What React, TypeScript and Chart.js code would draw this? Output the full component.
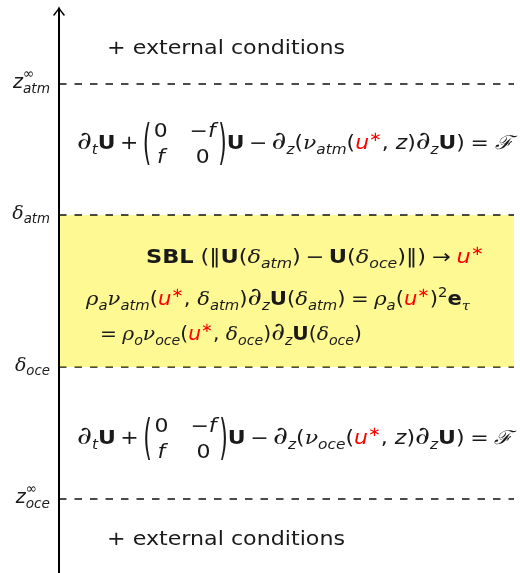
import React, { useEffect, useRef } from "react";
import { Chart, registerables } from "chart.js";

Chart.register(...registerables);

// ---------- data ----------
const levelNames = ["zAtmInf", "deltaAtm", "deltaOce", "zOceInf"];
const levelHeights = [489, 358, 206, 74];
const axisRange = [0, 565];
const layerSpan = [59, 514];
const externalText = "+ external conditions";

type Run = {
  t?: string;
  f?: "r" | "i" | "b" | "g" | "c" | "d";
  s?: "sub" | "sup";
  c?: string;
  sp?: number;
  mat?: Run[][][];
  stack?: [Run[], Run[]];
};

const RED = "#ff0000";
const INK = "#1a1a1a";
const R = (t: string, c?: string): Run => ({ t, f: "r", c });
const I = (t: string, c?: string): Run => ({ t, f: "i", c });
const B = (t: string): Run => ({ t, f: "b" });
const G = (t: string): Run => ({ t, f: "g" });
const C = (t: string): Run => ({ t, f: "c" });
const D = (): Run => ({ t: "∂", f: "d" });
const sub = (r: Run): Run => ({ ...r, s: "sub" });
const sup = (r: Run): Run => ({ ...r, s: "sup" });
const OP = (t: string): Run[] => [{ sp: 0.2 }, R(t), { sp: 0.2 }];
const REL = (t: string): Run[] => [{ sp: 0.26 }, R(t), { sp: 0.26 }];
const USTAR: Run[] = [I("u", RED), sup(R("∗", RED))];
const MAT: Run = { mat: [[[R("0")], [R("−"), I("f")]], [[I("f")], [R("0")]]] };

const levelLabels: Run[][] = [
  [I("z"), { stack: [[R("∞")], [I("atm")]] }],
  [G("δ"), sub(I("atm"))],
  [G("δ"), sub(I("oce"))],
  [I("z"), { stack: [[R("∞")], [I("oce")]] }],
];

const eqLayer = (layer: string): Run[] => [
  D(), sub(I("t")), B("U"), ...OP("+"), MAT, B("U"), ...OP("−"),
  D(), sub(I("z")), R("("), G("ν"), sub(I(layer)), R("("), ...USTAR, R(", "), I("z"), R(")"),
  D(), sub(I("z")), B("U"), R(")"), ...REL("="), C("ℱ"),
];

const sblLine1: Run[] = [
  B("SBL"), { sp: 0.3 }, R("("), R("‖"), B("U"), R("("), G("δ"), sub(I("atm")), R(")"), ...OP("−"),
  B("U"), R("("), G("δ"), sub(I("oce")), R(")"), R("‖"), R(")"), ...REL("→"), ...USTAR,
];
const sblLine2: Run[] = [
  G("ρ"), sub(I("a")), G("ν"), sub(I("atm")), R("("), ...USTAR, R(", "), G("δ"), sub(I("atm")), R(")"),
  D(), sub(I("z")), B("U"), R("("), G("δ"), sub(I("atm")), R(")"), ...REL("="),
  G("ρ"), sub(I("a")), R("("), ...USTAR, R(")"), sup(R("2")), B("e"), sub(G("τ")),
];
const sblLine3: Run[] = [
  R("="), { sp: 0.26 }, G("ρ"), sub(I("o")), G("ν"), sub(I("oce")), R("("), ...USTAR, R(", "),
  G("δ"), sub(I("oce")), R(")"), D(), sub(I("z")), B("U"), R("("), G("δ"), sub(I("oce")), R(")"),
];

// ---------- layout (data units) ----------
const SIZE = 19;
const labelRight = 50;
const textRows: { runs: Run[]; x0: number; x1: number; y: number }[] = [
  { runs: [R(externalText)], x0: 107, x1: 345, y: 519 },
  { runs: eqLayer("atm"), x0: 77, x1: 513, y: 424 },
  { runs: sblLine1, x0: 146, x1: 484, y: 310 },
  { runs: sblLine2, x0: 86, x1: 470, y: 268 },
  { runs: sblLine3, x0: 100, x1: 362, y: 233 },
  { runs: eqLayer("oce"), x0: 77, x1: 513, y: 129 },
  { runs: [R(externalText)], x0: 107, x1: 345, y: 28 },
];

const FONT: Record<string, (px: number) => string> = {
  r: (px) => `${px}px "DejaVu Sans"`,
  i: (px) => `oblique ${px}px "DejaVu Sans"`,
  b: (px) => `bold ${px}px "DejaVu Sans"`,
  g: (px) => `italic ${px}px "DejaVu Serif"`,
  c: (px) => `italic ${px}px "DejaVu Serif"`,
  d: (px) => `italic ${Math.round(px * 1.3)}px "DejaVu Serif"`,
};

function runsWidth(ctx: CanvasRenderingContext2D, runs: Run[], size: number): number {
  return drawRuns(ctx, runs, 0, 0, size, false);
}

function drawParen(ctx: CanvasRenderingContext2D, ch: string, x: number, axis: number, h: number, size: number, draw: boolean) {
  ctx.font = FONT.r(size);
  const m = ctx.measureText(ch);
  if (draw) {
    const asc = m.actualBoundingBoxAscent;
    const desc = m.actualBoundingBoxDescent;
    const k = h / (asc + desc);
    ctx.save();
    ctx.translate(x, axis);
    ctx.scale(1, k);
    ctx.fillStyle = INK;
    ctx.fillText(ch, 0, (asc - desc) / 2);
    ctx.restore();
  }
  return m.width;
}

function drawRuns(ctx: CanvasRenderingContext2D, runs: Run[], x0: number, y: number, size: number, draw = true): number {
  let x = x0;
  for (const run of runs) {
    if (run.sp !== undefined) {
      x += run.sp * size;
    } else if (run.mat) {
      const axis = y - 0.27 * size;
      const ph = 2.4 * size;
      const pad = 0.12 * size;
      const gap = 1.0 * size;
      const rows = run.mat;
      const cols = [0, 1].map((ci) => Math.max(...rows.map((r) => runsWidth(ctx, r[ci], size))));
      x += drawParen(ctx, "(", x, axis, ph, size, draw) + pad;
      const rowY = [y - 0.64 * size, y + 0.76 * size];
      if (draw) {
        rows.forEach((r, ri) => {
          let cx = x;
          r.forEach((cell, ci) => {
            const w = runsWidth(ctx, cell, size);
            drawRuns(ctx, cell, cx + (cols[ci] - w) / 2, rowY[ri], size, true);
            cx += cols[ci] + gap;
          });
        });
      }
      x += cols[0] + gap + cols[1] + pad;
      x += drawParen(ctx, ")", x, axis, ph, size, draw);
    } else if (run.stack) {
      const ss = size * 0.72;
      const w1 = drawRuns(ctx, run.stack[0], x, y - 0.5 * size, ss, draw) - x;
      const w2 = drawRuns(ctx, run.stack[1], x, y + 0.28 * size, ss, draw) - x;
      x += Math.max(w1, w2);
    } else if (run.t !== undefined) {
      const fs = run.s ? size * 0.7 : size;
      const dy = run.s === "sub" ? 0.24 * size : run.s === "sup" ? -0.42 * size : 0;
      ctx.font = FONT[run.f || "r"](fs);
      if (draw) {
        ctx.fillStyle = run.c || INK;
        ctx.fillText(run.t, x, y + dy);
      }
      x += ctx.measureText(run.t).width;
    }
  }
  return x;
}

const annotations = {
  id: "annotations",
  afterDatasetsDraw(chart: any) {
    const ctx: CanvasRenderingContext2D = chart.ctx;
    const xs = chart.scales.x;
    const ys = chart.scales.y;
    ctx.save();
    ctx.textAlign = "left";
    ctx.textBaseline = "alphabetic";

    // arrow head on the vertical axis
    const ax = xs.getPixelForValue(layerSpan[0]);
    const tip = ys.getPixelForValue(axisRange[1]);
    ctx.strokeStyle = "#000";
    ctx.lineWidth = 1.6;
    ctx.lineCap = "round";
    ctx.beginPath();
    ctx.moveTo(ax - 5, tip + 7);
    ctx.quadraticCurveTo(ax - 1, tip + 2, ax, tip);
    ctx.quadraticCurveTo(ax + 1, tip + 2, ax + 5, tip + 7);
    ctx.stroke();

    // level labels
    levelLabels.forEach((runs, i) => {
      const py = ys.getPixelForValue(levelHeights[i]) + 0.2 * SIZE;
      const w = runsWidth(ctx, runs, SIZE);
      drawRuns(ctx, runs, xs.getPixelForValue(labelRight) - w, py, SIZE, true);
    });

    // text rows
    textRows.forEach((row) => {
      const px0 = xs.getPixelForValue(row.x0);
      const px1 = xs.getPixelForValue(row.x1);
      const py = ys.getPixelForValue(row.y);
      const w = runsWidth(ctx, row.runs, SIZE);
      const sx = Math.min(1.25, Math.max(0.8, (px1 - px0) / w));
      ctx.save();
      ctx.translate(px0, py);
      ctx.scale(sx, 1);
      drawRuns(ctx, row.runs, 0, 0, SIZE, true);
      ctx.restore();
    });
    ctx.restore();
  },
};

export default function App() {
  const ref = useRef<HTMLCanvasElement | null>(null);
  useEffect(() => {
    document.body.style.margin = "0";
    if (!ref.current) return;
    const hLine = (h: number) => [
      { x: layerSpan[0], y: h },
      { x: layerSpan[1], y: h },
    ];
    const dashed = {
      borderColor: "#111",
      borderWidth: 1.6,
      borderDash: [7.5, 8],
      pointRadius: 0,
      fill: false,
    };
    const chart = new Chart(ref.current, {
      type: "line",
      data: {
        datasets: [
          {
            label: "axis",
            data: [
              { x: layerSpan[0], y: axisRange[0] },
              { x: layerSpan[0], y: axisRange[1] },
            ],
            borderColor: "#000",
            borderWidth: 2,
            pointRadius: 0,
            fill: false,
          },
          { label: levelNames[0], data: hLine(levelHeights[0]), ...dashed },
          {
            label: levelNames[1],
            data: hLine(levelHeights[1]),
            ...dashed,
            fill: "+1",
            backgroundColor: "rgba(255, 240, 0, 0.42)",
          },
          { label: levelNames[2], data: hLine(levelHeights[2]), ...dashed },
          { label: levelNames[3], data: hLine(levelHeights[3]), ...dashed },
        ] as any,
      },
      options: {
        responsive: false,
        maintainAspectRatio: false,
        animation: false,
        layout: { padding: 0 },
        plugins: { legend: { display: false }, tooltip: { enabled: false } },
        scales: {
          x: { type: "linear", min: 0, max: 520, display: false },
          y: { type: "linear", min: 0, max: 573, display: false },
        },
      },
      plugins: [annotations],
    });
    return () => chart.destroy();
  }, []);
  return <canvas ref={ref} width={520} height={573} style={{ display: "block" }} />;
}
